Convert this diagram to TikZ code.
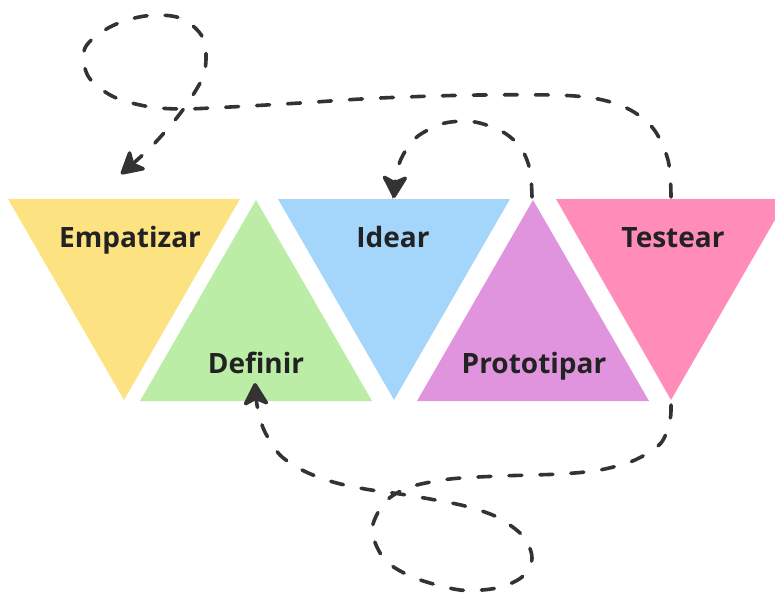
\documentclass[tikz,border=0pt]{standalone}
\usepackage{fontspec}
\setmainfont{Open Sans}
\usetikzlibrary{arrows.meta}
\definecolor{cyel}{RGB}{253,226,129}
\definecolor{cgrn}{RGB}{187,237,166}
\definecolor{cblu}{RGB}{163,214,250}
\definecolor{cpur}{RGB}{224,148,222}
\definecolor{cpnk}{RGB}{255,140,185}
\definecolor{cink}{RGB}{34,34,34}
\definecolor{cline}{RGB}{51,51,51}
\tikzset{
  lbl/.style={font=\fontsize{28}{32}\selectfont\bfseries, text=cink, anchor=base, inner sep=0pt},
  flow/.style={draw=cline, line width=3.6pt, line cap=round, dash pattern=on 13pt off 18pt,
    -{Stealth[length=26pt,width=29pt,inset=7pt,round]}},
}
\begin{document}
\begin{tikzpicture}[x=1pt,y=-1pt]
\useasboundingbox (0,0) rectangle (775,595);
% triangle vertices
\coordinate (Etl) at (8,199);   \coordinate (Etr) at (240,199); \coordinate (Ebot) at (124,400);
\coordinate (Dbl) at (140,401); \coordinate (Dbr) at (372,401); \coordinate (Dtop) at (256,200);
\coordinate (Itl) at (278,199); \coordinate (Itr) at (510,199); \coordinate (Ibot) at (394,400);
\coordinate (Pbl) at (417,401); \coordinate (Pbr) at (649,401); \coordinate (Ptop) at (533,200);
\coordinate (Ttl) at (556,199); \coordinate (Ttr) at (787,199); \coordinate (Tbot) at (671,400);
\fill[cyel] (Etl) -- (Etr) -- (Ebot) -- cycle;
\fill[cgrn] (Dbl) -- (Dbr) -- (Dtop) -- cycle;
\fill[cblu] (Itl) -- (Itr) -- (Ibot) -- cycle;
\fill[cpur] (Pbl) -- (Pbr) -- (Ptop) -- cycle;
\fill[cpnk] (Ttl) -- (Ttr) -- (Tbot) -- cycle;
% labels
\node[lbl] (E) at (130,247) {Empatizar};
\node[lbl] (D) at (256,373) {Definir};
\node[lbl] (I) at (393,247) {Idear};
\node[lbl] (P) at (534,373) {Prototipar};
\node[lbl] (T) at (673,247) {Testear};
% connector end points
\coordinate (Tin) at (671,197);
\coordinate (Tout) at (671,405);
\coordinate (Pout) at (532,197);
\coordinate (Earr) at (121,174);
\coordinate (Iarr) at (394,198);
\coordinate (Darr) at (255,383);
% Testear -> Empatizar
\draw[flow] plot[smooth, tension=0.55] coordinates {(Tin) (668,160) (652,127) (622,106) (575,96) (480,95) (380,98) (300,103) (230,107) (180,109) (145,106) (112,96) (88,76) (85,48) (110,27) (145,16) (180,18) (203,38) (205,70) (193,95) (175,120) (150,148) (Earr)};
% Prototipar -> Idear
\draw[flow] plot[smooth] coordinates {(Pout) (530,170) (521,148) (503,132) (475,122) (445,123) (418,136) (403,155) (396,175) (Iarr)};
% Testear -> Definir
\draw[flow] plot[smooth] coordinates {(Tout) (670,420) (661,443) (635,460) (600,470) (560,474) (500,476) (450,479) (410,487) (385,502) (372,530) (385,560) (415,578) (460,590) (497,588) (522,577) (532,558) (523,536) (497,517) (465,506) (430,499) (400,494) (365,489) (333,482) (304,471) (280,455) (264,430) (257,405) (Darr)};
\end{tikzpicture}
\end{document}
